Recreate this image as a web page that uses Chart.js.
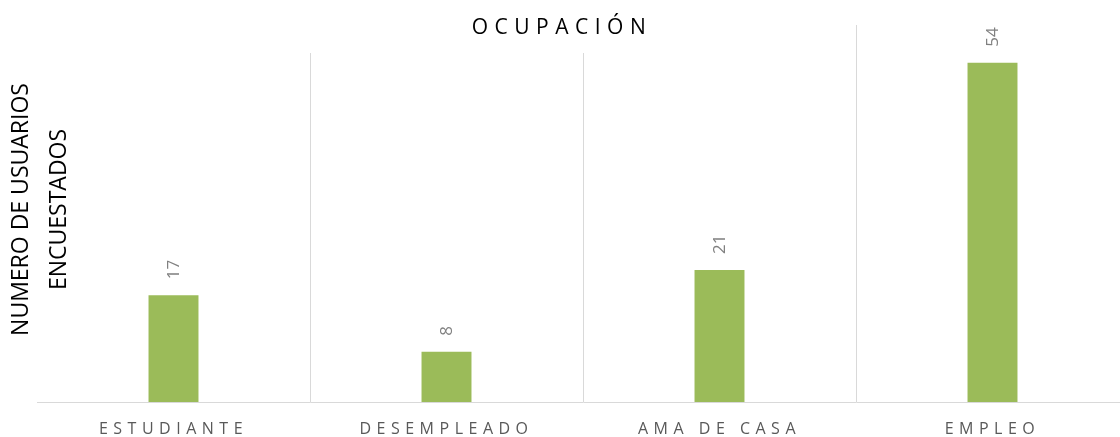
<!DOCTYPE html>
<html>
<head>
<meta charset="utf-8">
<script src="https://cdn.jsdelivr.net/npm/chart.js@4.4.1/dist/chart.umd.min.js"></script>
<style>
  html, body { margin: 0; padding: 0; background: #fff; overflow: hidden; }
  #wrap { width: 1130px; height: 437px; }
</style>
</head>
<body>
<div id="wrap"><canvas id="c" width="1130" height="437"></canvas></div>
<script>
const categories = ["ESTUDIANTE", "DESEMPLEADO", "AMA DE CASA", "EMPLEO"];
const usuarios = [17, 8, 21, 54];
const chartTitle = "OCUPACIÓN";
const yTitleLines = ["NUMERO DE USUARIOS", "ENCUESTADOS"];
const yMin = 0, yMax = 60;

const FONT = "'Open Sans', 'DejaVu Sans', sans-serif";

const decorPlugin = {
  id: 'decor',
  beforeDraw(chart) {
    chart.ctx.letterSpacing = '5.5px';
  },
  beforeDatasetsDraw(chart) {
    const ctx = chart.ctx;
    ctx.save();
    ctx.fillStyle = '#ffffff';
    ctx.fillRect(0, 0, 720, 53);
    ctx.restore();
  },
  afterDatasetsDraw(chart) {
    const ctx = chart.ctx;
    const meta = chart.getDatasetMeta(0);
    ctx.save();
    ctx.letterSpacing = '0px';
    ctx.fillStyle = '#808080';
    ctx.font = "17px " + FONT;
    meta.data.forEach((bar, i) => {
      ctx.save();
      ctx.translate(bar.x, bar.y - 16);
      ctx.rotate(-Math.PI / 2);
      ctx.textAlign = 'left';
      ctx.textBaseline = 'middle';
      ctx.fillText(String(usuarios[i]), 0, 1);
      ctx.restore();
    });
    ctx.restore();
  },
  afterDraw(chart) {
    const ctx = chart.ctx;
    const area = chart.chartArea;
    ctx.save();
    // chart title
    ctx.letterSpacing = '6.5px';
    ctx.font = "21px " + FONT;
    ctx.fillStyle = '#000000';
    ctx.textAlign = 'center';
    ctx.textBaseline = 'middle';
    ctx.fillText(chartTitle, 562, 28);
    // y axis title
    ctx.letterSpacing = '0px';
    ctx.font = "23px " + FONT;
    const cy = (area.top + area.bottom) / 2 - 4;
    const xs = [21, 59];
    yTitleLines.forEach((t, i) => {
      ctx.save();
      ctx.translate(xs[i], cy);
      ctx.rotate(-Math.PI / 2);
      ctx.textAlign = 'center';
      ctx.textBaseline = 'middle';
      ctx.fillText(t, 0, 0);
      ctx.restore();
    });
    ctx.restore();
  }
};

new Chart(document.getElementById('c'), {
  type: 'bar',
  data: {
    labels: categories,
    datasets: [{
      data: usuarios,
      backgroundColor: '#9BBB59',
      borderWidth: 0,
      categoryPercentage: 1.0,
      barPercentage: 0.183
    }]
  },
  options: {
    responsive: false,
    animation: false,
    devicePixelRatio: 1,
    layout: { padding: { left: 37, top: 25, right: 1, bottom: 0 } },
    plugins: {
      legend: { display: false },
      title: { display: false },
      tooltip: { enabled: false }
    },
    scales: {
      x: {
        offset: true,
        grid: {
          offset: true,
          drawTicks: false,
          color: (c) => c.index === 0 ? 'rgba(0,0,0,0)' : '#d9d9d9',
          lineWidth: 1
        },
        border: { display: true, color: '#d9d9d9', width: 1 },
        ticks: {
          color: '#595959',
          font: { family: FONT, size: 16 },
          padding: 18,
          maxRotation: 0,
          autoSkip: false
        },
        afterFit(scale) { scale.height = 35; }
      },
      y: {
        display: false,
        min: yMin,
        max: yMax
      }
    }
  },
  plugins: [decorPlugin]
});
</script>
</body>
</html>
